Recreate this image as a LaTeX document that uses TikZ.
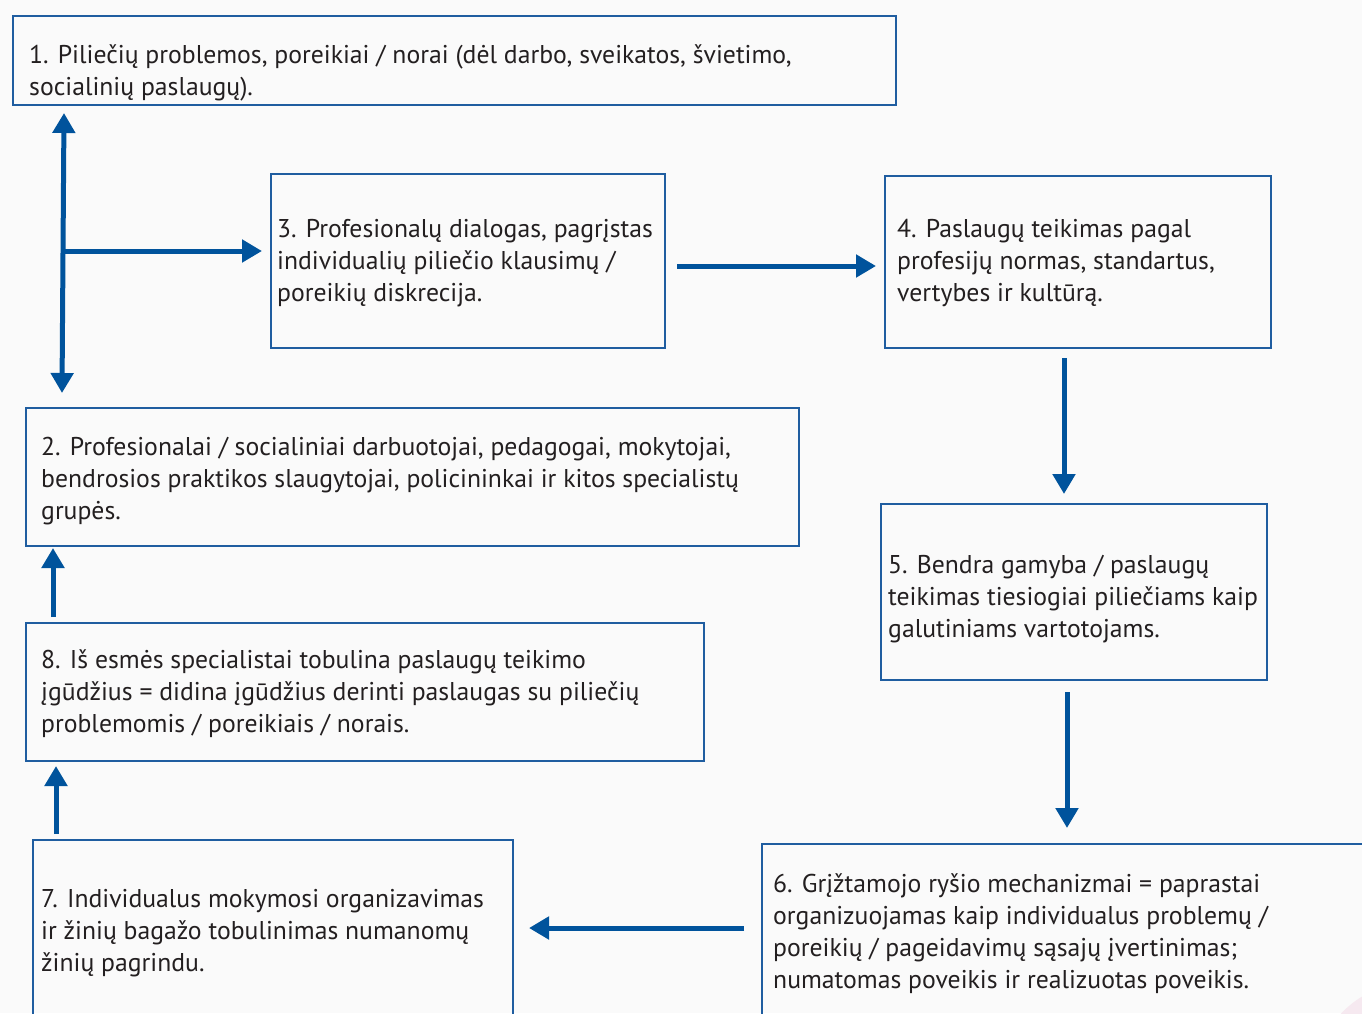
\documentclass[tikz,border=0pt]{standalone}
\usepackage{fontspec}
\setmainfont{PT Sans}
\usetikzlibrary{arrows.meta}
\definecolor{bg}{HTML}{FAFAFA}
\definecolor{boxblue}{HTML}{1F5DA0}
\definecolor{arrblue}{HTML}{00539C}
\definecolor{txt}{HTML}{231F20}
\definecolor{softpink}{HTML}{F6E9F0}
\begin{document}
\begin{tikzpicture}[x=1pt,y=-1pt,
  box/.style={draw=boxblue,line width=2pt,inner sep=0pt,anchor=north west},
  lbl/.style={anchor=west,align=left,inner sep=0pt,text=txt,font=\fontsize{25.7}{32}\selectfont},
  flow/.style={draw=arrblue,line width=5pt,-{Triangle[width=22pt,length=20pt]}},
  both/.style={draw=arrblue,line width=5pt,{Triangle[width=22pt,length=20pt]}-{Triangle[width=22pt,length=20pt]}},
]
\useasboundingbox (0,0) rectangle (1362,1013);
\clip (0,0) rectangle (1362,1013);
\fill[bg] (0,0) rectangle (1362,1013);
\fill[softpink] (1420,1090) circle (110);

% boxes
\node[box,minimum width=883pt,minimum height=89pt] (b1) at (12,15) {};
\node[box,minimum width=394pt,minimum height=174pt] (b3) at (270,173) {};
\node[box,minimum width=386pt,minimum height=172pt] (b4) at (884,175) {};
\node[box,minimum width=773pt,minimum height=138pt] (b2) at (25,407) {};
\node[box,minimum width=386pt,minimum height=176pt] (b5) at (880,503) {};
\node[box,minimum width=678pt,minimum height=138pt] (b8) at (25,622) {};
\node[box,minimum width=480pt,minimum height=200pt] (b7) at (32,839) {};
\node[box,minimum width=640pt,minimum height=200pt] (b6) at (761,843) {};

% texts
\node[lbl] (t1) at (29,73) {1. Piliečių problemos, poreikiai / norai (dėl darbo, sveikatos, švietimo,\\socialinių paslaugų).};
\node[lbl] (t3) at (277,263) {3. Profesionalų dialogas, pagrįstas\\individualių piliečio klausimų /\\poreikių diskrecija.};
\node[lbl] (t4) at (897,263) {4. Paslaugų teikimas pagal\\profesijų normas, standartus,\\vertybes ir kultūrą.};
\node[lbl] (t2) at (41,481) {2. Profesionalai / socialiniai darbuotojai, pedagogai, mokytojai,\\bendrosios praktikos slaugytojai, policininkai ir kitos specialistų\\grupės.};
\node[lbl] (t5) at (888,599) {5. Bendra gamyba / paslaugų\\teikimas tiesiogiai piliečiams kaip\\galutiniams vartotojams.};
\node[lbl] (t8) at (41,694) {8. Iš esmės specialistai tobulina paslaugų teikimo\\įgūdžius = didina įgūdžius derinti paslaugas su piliečių\\problemomis / poreikiais / norais.};
\node[lbl] (t7) at (41,933) {7. Individualus mokymosi organizavimas\\ir žinių bagažo tobulinimas numanomų\\žinių pagrindu.};
\node[lbl] (t6) at (773,934) {6. Grįžtamojo ryšio mechanizmai = paprastai\\organizuojamas kaip individualus problemų /\\poreikių / pageidavimų sąsajų įvertinimas;\\numatomas poveikis ir realizuotas poveikis.};

% arrow end points
\coordinate (v1) at (64,113);
\coordinate (v2) at (62,393);
\coordinate (h1) at (63,251);
\coordinate (h2) at (262,251);
\coordinate (a34s) at (677,266);
\coordinate (a34e) at (876,266);
\coordinate (a45s) at (1064,358);
\coordinate (a45e) at (1064,494);
\coordinate (a56s) at (1067,692);
\coordinate (a56e) at (1067,828);
\coordinate (a67s) at (744,928);
\coordinate (a67e) at (529,928);
\coordinate (a78s) at (56,834);
\coordinate (a78e) at (56,766);
\coordinate (a82s) at (53,617);
\coordinate (a82e) at (53,548);

\draw[both] (v1) -- (v2);
\draw[flow] (h1) -- (h2);
\draw[flow] (a34s) -- (a34e);
\draw[flow] (a45s) -- (a45e);
\draw[flow] (a56s) -- (a56e);
\draw[flow] (a67s) -- (a67e);
\draw[flow] (a78s) -- (a78e);
\draw[flow] (a82s) -- (a82e);
\end{tikzpicture}
\end{document}
